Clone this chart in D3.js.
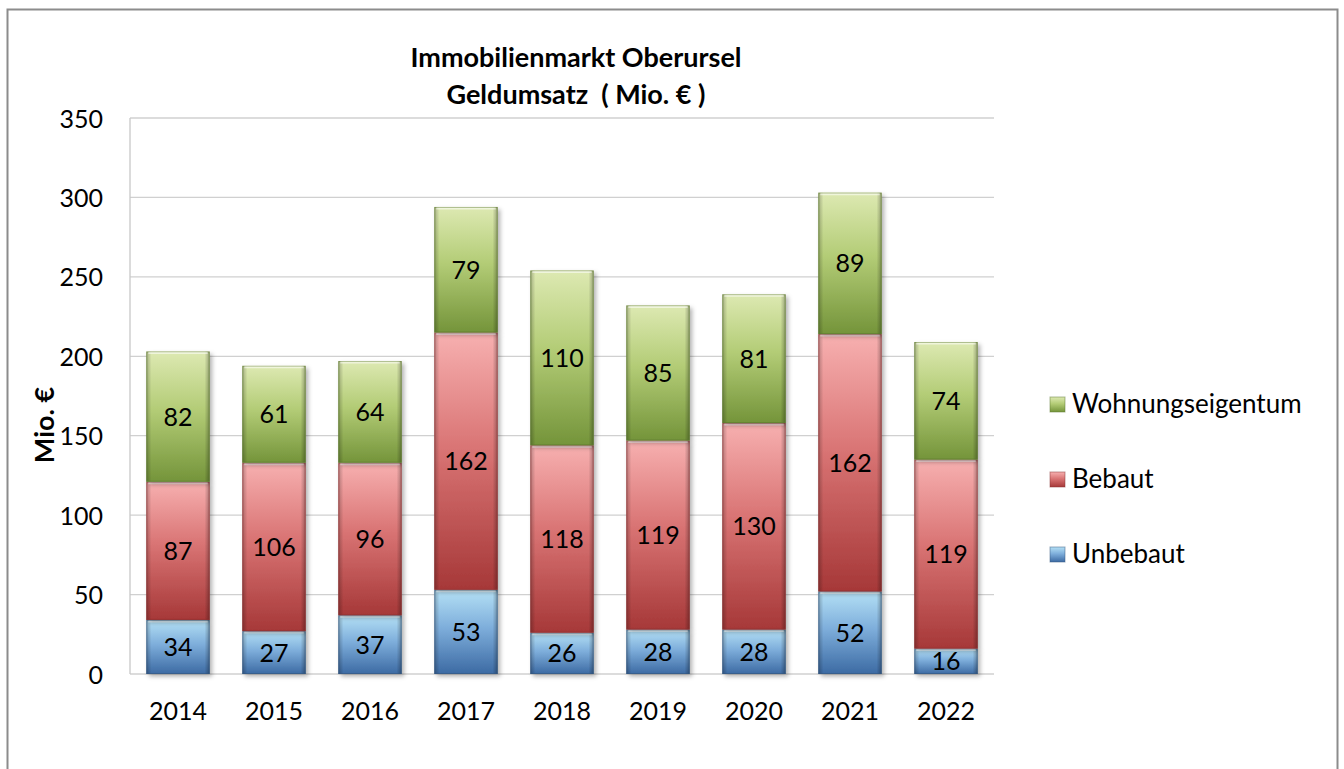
<!DOCTYPE html>
<html><head><meta charset="utf-8">
<script src="https://cdn.jsdelivr.net/npm/d3@7"></script>
<style>
html,body{margin:0;padding:0;background:#fff;}
svg{display:block;font-family:Lato,"Open Sans",sans-serif;}
</style></head>
<body><svg id="c" width="1344" height="769"></svg>
<script>
const years = ["2014","2015","2016","2017","2018","2019","2020","2021","2022"];
const unbebaut = [34,27,37,53,26,28,28,52,16];
const bebaut = [87,106,96,162,118,119,130,162,119];
const wohnungseigentum = [82,61,64,79,110,85,81,89,74];
const seriesNames = ["Unbebaut","Bebaut","Wohnungseigentum"];
const yTicks = [0,50,100,150,200,250,300,350];

const svg = d3.select("#c");
const m = {left:130, right:994, top:118, bottom:674};
const FS = 25;

svg.append("rect").attr("x",7.5).attr("y",9.5).attr("width",1330).attr("height",770)
  .attr("fill","#fff").attr("stroke","#8c8c8c").attr("stroke-width",2);

const defs = svg.append("defs");
const palettes = {
  Unbebaut: ["#b4e0f5","#7eaedb","#3c6aa3"],
  Bebaut: ["#f7b0b0","#d97474","#a63838"],
  Wohnungseigentum: ["#dde9b2","#b3cc76","#74943a"]
};
const edges = {Unbebaut:"#36587f",Bebaut:"#8a3434",Wohnungseigentum:"#5e7a30"};
seriesNames.forEach((s,i)=>{
  const g = defs.append("linearGradient").attr("id","g"+i).attr("x1",0).attr("y1",0).attr("x2",0).attr("y2",1);
  g.append("stop").attr("offset","0%").attr("stop-color",palettes[s][0]);
  g.append("stop").attr("offset","45%").attr("stop-color",palettes[s][1]);
  g.append("stop").attr("offset","100%").attr("stop-color",palettes[s][2]);
});
const hg = defs.append("linearGradient").attr("id","hshade").attr("x1",0).attr("y1",0).attr("x2",1).attr("y2",0);
hg.append("stop").attr("offset","0%").attr("stop-color","#000").attr("stop-opacity",0.25);
hg.append("stop").attr("offset","8%").attr("stop-color","#000").attr("stop-opacity",0);
hg.append("stop").attr("offset","92%").attr("stop-color","#000").attr("stop-opacity",0);
hg.append("stop").attr("offset","100%").attr("stop-color","#000").attr("stop-opacity",0.3);
const f = defs.append("filter").attr("id","sh").attr("x","-20%").attr("y","-20%").attr("width","150%").attr("height","150%");
f.append("feDropShadow").attr("dx",2.5).attr("dy",2.5).attr("stdDeviation",2).attr("flood-color","#000").attr("flood-opacity",0.3);

const x = d3.scaleBand().domain(years).range([m.left,m.right]).paddingInner(0.34).paddingOuter(0.17);
const y = d3.scaleLinear().domain([0,350]).range([m.bottom,m.top]);

// gridlines
svg.append("g").selectAll("line").data(yTicks).join("line")
  .attr("x1",m.left).attr("x2",m.right).attr("y1",d=>y(d)).attr("y2",d=>y(d))
  .attr("stroke","#d0d0d0").attr("stroke-width",1.3);
svg.append("line").attr("x1",m.left).attr("x2",m.left).attr("y1",m.top).attr("y2",m.bottom)
  .attr("stroke","#c8c8c8").attr("stroke-width",1.3);

// y axis labels
const yAxis = d3.axisLeft(y).tickValues(yTicks).tickSize(0).tickPadding(0);
const ya = svg.append("g").attr("transform",`translate(${m.left-27},0)`).call(yAxis);
ya.select(".domain").remove();
ya.selectAll("text").attr("font-size",FS).attr("fill","#000").attr("font-family","Lato,'Open Sans',sans-serif").attr("dy","0.36em");

// x axis labels
const xAxis = d3.axisBottom(x).tickSize(0).tickPadding(0);
const xa = svg.append("g").attr("transform",`translate(0,${m.bottom+28})`).call(xAxis);
xa.select(".domain").remove();
xa.selectAll("text").attr("font-size",FS).attr("fill","#000").attr("font-family","Lato,'Open Sans',sans-serif").attr("dy","0.72em");

// stacks
const rows = years.map((yr,i)=>({year:yr,Unbebaut:unbebaut[i],Bebaut:bebaut[i],Wohnungseigentum:wohnungseigentum[i]}));
const stack = d3.stack().keys(seriesNames)(rows);

const gBars = svg.append("g");
stack.forEach((layer,li)=>{
  const g = gBars.append("g");
  layer.forEach(d=>{
    const x0 = x(d.data.year), w = x.bandwidth();
    const y0 = y(d[1]), h = y(d[0]) - y(d[1]);
    g.append("rect").attr("x",x0).attr("y",y0).attr("width",w).attr("height",h)
      .attr("fill",`url(#g${li})`).attr("filter","url(#sh)");
    g.append("rect").attr("x",x0).attr("y",y0).attr("width",w).attr("height",h)
      .attr("fill","url(#hshade)");
    g.append("rect").attr("x",x0+0.5).attr("y",y0+0.5).attr("width",w-1).attr("height",h-1)
      .attr("fill","none").attr("stroke",edges[layer.key]).attr("stroke-opacity",0.6).attr("stroke-width",1);
    g.append("line").attr("x1",x0+2).attr("x2",x0+w-2).attr("y1",y0+1.5).attr("y2",y0+1.5)
      .attr("stroke","#fff").attr("stroke-opacity",0.55).attr("stroke-width",2);
    g.append("text").attr("x",x0+w/2).attr("y",(y0+y(d[0]))/2).attr("dy","0.36em")
      .attr("text-anchor","middle").attr("font-size",FS).attr("fill","#000")
      .text(d.data[layer.key]);
  });
});

// title
svg.append("text").attr("x",576).attr("y",67).attr("text-anchor","middle")
  .attr("font-size",27).attr("font-weight","bold").text("Immobilienmarkt Oberursel");
svg.append("text").attr("x",576).attr("y",104).attr("text-anchor","middle")
  .attr("font-size",27).attr("font-weight","bold").style("white-space","pre").text("Geldumsatz  ( Mio. € )");

// y title
svg.append("text").attr("transform","translate(54,425) rotate(-90)").attr("text-anchor","middle")
  .attr("font-size",27).attr("font-weight","bold").text("Mio. €");

// legend
const legendItems = ["Wohnungseigentum","Bebaut","Unbebaut"];
const lg = svg.append("g");
legendItems.forEach((s,i)=>{
  const ly = 404 + i*75;
  const li = seriesNames.indexOf(s);
  lg.append("rect").attr("x",1050).attr("y",ly-7).attr("width",15).attr("height",15)
    .attr("fill",`url(#g${li})`).attr("stroke",edges[s]).attr("stroke-opacity",0.5);
  lg.append("text").attr("x",1072).attr("y",ly).attr("dy","0.36em")
    .attr("font-size",26).attr("fill","#000").text(s);
});
</script></body></html>
